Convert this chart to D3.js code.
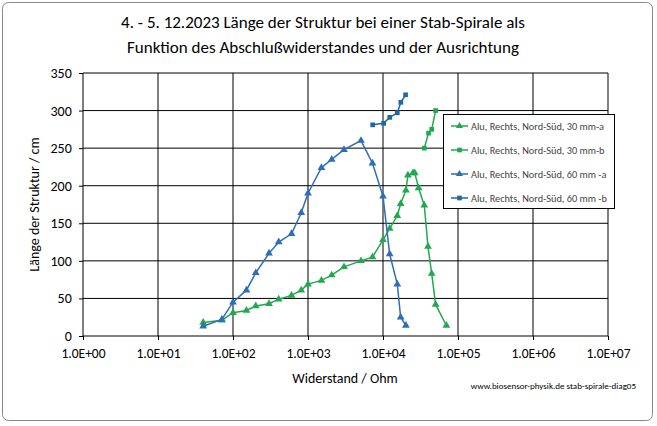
<!DOCTYPE html><html><head><meta charset="utf-8"><script src="https://cdn.jsdelivr.net/npm/d3@7"></script>
<style>body{margin:0;background:#fff}text{font-family:Carlito,Calibri,"Liberation Sans",sans-serif}</style></head><body><svg id="c" width="657" height="426"></svg><script>
const xTicks=[1,10,100,1e3,1e4,1e5,1e6,1e7];
const xTickLabels=["1.0E+00","1.0E+01","1.0E+02","1.0E+03","1.0E+04","1.0E+05","1.0E+06","1.0E+07"];
const yTicks=[0,50,100,150,200,250,300,350];
const seriesNames=["Alu, Rechts, Nord-Süd, 30 mm-a","Alu, Rechts, Nord-Süd, 30 mm-b","Alu, Rechts, Nord-Süd, 60 mm -a","Alu, Rechts, Nord-Süd, 60 mm -b"];
const r30a=[40,71,100,151,201,302,407,603,813,1000,1510,2070,3020,5090,7240,10000,12270,15500,17200,20200,21500,25100,26500,29800,35500,39800,44600,50300,70000];
const v30a=[18,21,31,34,40,43,49,54,61,69,74,81,92,100,105,128,143,160,176,194,214,217,217,197,174,119,83,42,14];
const r30b=[35500,40500,44600,50300];
const v30b=[250,270,275,300];
const r60a=[40,71,100,151,201,302,407,603,813,1000,1510,2070,3020,5090,7240,10000,12270,15500,17200,20200];
const v60a=[13,22,45,61,84,110,125,136,164,190,224,235,248,260,230,186,109,69,25,14];
const r60b=[7280,10200,12300,15500,17300,20000];
const v60b=[281,283,291,297,311,321];
const green="#22a94f",blue="#2e6db8",blue2="#1f68a8";
const svg=d3.select("#c");
svg.append("rect").attr("x",2.5).attr("y",2.5).attr("width",650).attr("height",418).attr("rx",6).attr("fill","#fff").attr("stroke","#888");
const L=83,R=608,T=73,B=336;
const x=d3.scaleLog().domain([1,1e7]).range([L,R]);
const y=d3.scaleLinear().domain([0,350]).range([B,T]);
const g=svg.append("g");
g.selectAll(".vx").data(xTicks).join("line").attr("x1",d=>x(d)).attr("x2",d=>x(d)).attr("y1",T).attr("y2",B).attr("stroke","#000").attr("stroke-width",1);
g.selectAll(".hy").data(yTicks).join("line").attr("x1",L).attr("x2",R).attr("y1",d=>y(d)).attr("y2",d=>y(d)).attr("stroke","#000").attr("stroke-width",1);
const xa=svg.append("g").attr("transform",`translate(0,${B})`).call(d3.axisBottom(x).tickValues(xTicks).tickFormat((d,i)=>xTickLabels[i]).tickSize(4));
xa.select(".domain").remove();
xa.selectAll("text").attr("font-size",13.5).attr("dy","1.1em").attr("fill","#000");
const ya=svg.append("g").attr("transform",`translate(${L},0)`).call(d3.axisLeft(y).tickValues(yTicks).tickSize(4));
ya.select(".domain").remove();
ya.selectAll("text").attr("font-size",14).attr("fill","#000").attr("dx","-0.3em");
function draw(rs,vs,col,shape){
 const pts=rs.map((r,i)=>[x(r),y(vs[i])]);
 svg.append("path").attr("d",d3.line()(pts)).attr("fill","none").attr("stroke",col).attr("stroke-width",1.5);
 svg.selectAll(null).data(pts).join("path").attr("transform",p=>`translate(${p[0]},${p[1]})`)
  .attr("d",d3.symbol().type(shape).size(shape===d3.symbolSquare?22:26)).attr("fill",col);
}
draw(r30a,v30a,green,d3.symbolTriangle);
draw(r30b,v30b,green,d3.symbolSquare);
draw(r60a,v60a,blue,d3.symbolTriangle);
draw(r60b,v60b,blue2,d3.symbolSquare);
const lg=svg.append("g");
lg.append("rect").attr("x",443.5).attr("y",114.5).attr("width",171).attr("height",94).attr("fill","#fff").attr("stroke","#000");
const cols=[green,green,blue,blue2],shapes=[d3.symbolTriangle,d3.symbolSquare,d3.symbolTriangle,d3.symbolSquare];
seriesNames.forEach((n,i)=>{const yy=126+i*24;
 lg.append("line").attr("x1",451).attr("x2",468).attr("y1",yy).attr("y2",yy).attr("stroke",cols[i]).attr("stroke-width",1.5);
 lg.append("path").attr("transform",`translate(459.5,${yy})`).attr("d",d3.symbol().type(shapes[i]).size(22)).attr("fill",cols[i]);
 lg.append("text").attr("x",471).attr("y",yy+3.5).attr("font-size",10.3).attr("fill","#444").text(n);});
svg.append("text").attr("x",323).attr("y",28).attr("text-anchor","middle").attr("font-size",17).text("4. - 5. 12.2023 Länge der Struktur bei einer Stab-Spirale als");
svg.append("text").attr("x",323).attr("y",53).attr("text-anchor","middle").attr("font-size",17).text("Funktion des Abschlußwiderstandes und der Ausrichtung");
svg.append("text").attr("transform",`translate(39,${(T+B)/2}) rotate(-90)`).attr("text-anchor","middle").attr("font-size",14).text("Länge der Struktur / cm");
svg.append("text").attr("x",345).attr("y",383).attr("text-anchor","middle").attr("font-size",14).text("Widerstand / Ohm");
svg.append("text").attr("x",636).attr("y",389).attr("text-anchor","end").attr("font-size",9).text("www.biosensor-physik.de  stab-spirale-diag05");
</script></body></html>
